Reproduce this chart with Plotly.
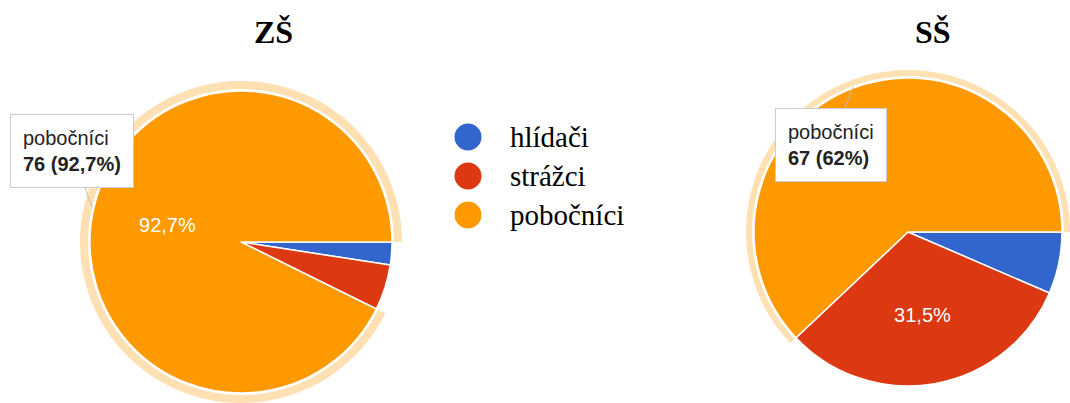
import plotly.graph_objects as go

W, H = 1070, 403

CATEGORIES = ["hlídači", "strážci", "pobočníci"]
COLORS = ["#3366cc", "#dc3912", "#ff9900"]
HALO_COLORS = ["rgba(0,0,0,0)", "rgba(0,0,0,0)", "#ffe0b2"]

ZS_VALUES = [2, 4, 76]
ZS_LABELS = ["", "", "92,7%"]
SS_VALUES = [7, 34, 67]
SS_LABELS = ["", "31,5%", ""]

TITLES = ["ZŠ", "SŠ"]
TOOLTIPS = ["pobočníci<br><b>76 (92,7%)</b>", "pobočníci<br><b>67 (62%)</b>"]


def px_domain(cx, cy, r):
    # pixel centre (from top) + radius -> paper domain
    return dict(
        x=[max(0, (cx - r) / W), min(1, (cx + r) / W)],
        y=[max(0, (H - cy - r) / H), min(1, (H - cy + r) / H)],
    )


def add_pie(fig, values, labels, cx, cy, r, ring_r):
    # highlight ring behind the selected slice
    fig.add_trace(go.Pie(
        labels=CATEGORIES, values=values, sort=False, direction="clockwise", rotation=90,
        domain=px_domain(cx, cy, ring_r), hole=(r + 2) / ring_r,
        marker=dict(colors=HALO_COLORS, line=dict(width=0)),
        textinfo="none", hoverinfo="skip", showlegend=False,
    ))
    fig.add_trace(go.Pie(
        labels=CATEGORIES, values=values, sort=False, direction="clockwise", rotation=90,
        domain=px_domain(cx, cy, r),
        marker=dict(colors=COLORS, line=dict(color="white", width=1.5)),
        text=labels, texttemplate="%{text}", textposition="inside",
        insidetextorientation="horizontal",
        textfont=dict(color="white", size=20, family="Liberation Sans, Arial"),
        showlegend=False,
    ))


fig = go.Figure()
add_pie(fig, ZS_VALUES, ZS_LABELS, 241, 242, 151, 161)
add_pie(fig, SS_VALUES, SS_LABELS, 908, 232, 154, 162)

annotations = []
for text, x in zip(TITLES, [273, 933]):
    annotations.append(dict(
        text=f"<b>{text}</b>", x=x / W, y=1 - 32 / H, xref="paper", yref="paper",
        xanchor="center", yanchor="middle",
        showarrow=False, font=dict(family="Liberation Serif", size=32, color="black"),
    ))

# tooltip callouts
for text, tip, off in zip(TOOLTIPS, [(92, 207), (853, 87)], [(-20, -56), (-22, 58)]):
    annotations.append(dict(
        text=text, x=tip[0] / W, y=1 - tip[1] / H, xref="paper", yref="paper",
        ax=off[0], ay=off[1], showarrow=True, arrowhead=0, arrowwidth=1, arrowcolor="#bbbbbb",
        align="left", bgcolor="white", bordercolor="#cccccc", borderwidth=1, borderpad=12,
        font=dict(family="Liberation Sans, Arial", size=20, color="#222222"),
    ))

# legend with round markers
shapes = []
for i, (name, color) in enumerate(zip(CATEGORIES, COLORS)):
    ly = 1 - (137 + i * 39) / H
    shapes.append(dict(
        type="circle", xref="paper", yref="paper", xsizemode="pixel", ysizemode="pixel",
        xanchor=468 / W, yanchor=ly, x0=-13.5, x1=13.5, y0=-13.5, y1=13.5,
        fillcolor=color, line=dict(width=0),
    ))
    annotations.append(dict(
        text=name, x=508 / W, y=ly, xref="paper", yref="paper", xanchor="left",
        showarrow=False, font=dict(family="Liberation Serif", size=29, color="black"),
    ))

fig.update_layout(
    width=W, height=H,
    margin=dict(l=0, r=0, t=0, b=0),
    paper_bgcolor="white",
    annotations=annotations,
    shapes=shapes,
)

fig.write_html(
    "out.html",
    config={"displayModeBar": False},
    post_script="document.body.style.margin='0';",
)
